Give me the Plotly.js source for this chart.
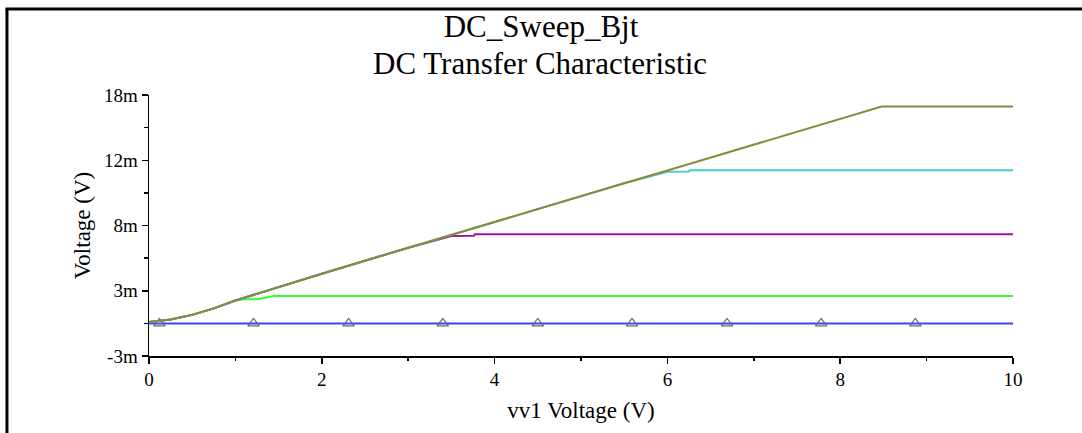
<!DOCTYPE html>
<html>
<head>
<meta charset="utf-8">
<script src="https://cdn.plot.ly/plotly-3.0.1.min.js"></script>
<style>html,body{margin:0;padding:0;background:#fff;}#chart{width:1082px;height:433px;}</style>
</head>
<body>
<div id="chart"></div>
<script>
// Sweep voltage (V) and node voltages (mV)
const oliveX = [0, 0.25, 0.5, 0.75, 1.0, 1.5, 2.0, 2.5, 3.0, 3.5, 4.0, 4.5, 5.0, 5.5, 6.0, 6.5, 7.0, 7.5, 8.0, 8.48, 10];
const oliveY = [0.1, 0.3, 0.65, 1.15, 1.75, 2.8, 3.8, 4.8, 5.8, 6.8, 7.78, 8.77, 9.76, 10.74, 11.72, 12.7, 13.69, 14.67, 15.66, 16.62, 16.62];

const cyanX = [0, 0.25, 0.5, 0.75, 1.0, 1.5, 2.0, 2.5, 3.0, 3.5, 4.0, 4.5, 5.0, 5.5, 6.0, 6.25, 6.26, 10];
const cyanY = [0.1, 0.3, 0.65, 1.15, 1.75, 2.8, 3.8, 4.8, 5.8, 6.8, 7.78, 8.77, 9.76, 10.74, 11.62, 11.64, 11.73, 11.73];

const purpleX = [0, 0.25, 0.5, 0.75, 1.0, 1.5, 2.0, 2.5, 3.0, 3.5, 3.76, 3.77, 10];
const purpleY = [0.1, 0.3, 0.65, 1.15, 1.75, 2.8, 3.8, 4.8, 5.8, 6.7, 6.72, 6.82, 6.82];

const greenX = [0, 0.25, 0.5, 0.75, 1.0, 1.1, 1.27, 1.44, 10];
const greenY = [0.1, 0.3, 0.65, 1.15, 1.75, 1.84, 1.86, 2.1, 2.1];

const blueX = [0, 10];
const blueY = [0, 0];

const markX = [0.12, 1.21, 2.31, 3.40, 4.50, 5.59, 6.69, 7.78, 8.87];
const markY = [0, 0, 0, 0, 0, 0, 0, 0, 0];

const xTickVals = [0, 2, 4, 6, 8, 10];
const xTickText = ['0', '2', '4', '6', '8', '10'];
const yTickVals = [-2.5, 2.5, 7.5, 12.5, 17.5];
const yTickText = ['-3m', '3m', '8m', '12m', '18m'];
const yMinorVals = [0, 5, 10, 15];

const serif = 'Liberation Serif, Times New Roman, serif';

function line(x, y, color) {
  return {x: x, y: y, type: 'scatter', mode: 'lines', line: {color: color, width: 2}, hoverinfo: 'skip'};
}

const traces = [
  line(blueX, blueY, '#4040ff'),
  {x: markX, y: markY, type: 'scatter', mode: 'markers',
   marker: {symbol: 'triangle-up-open', size: 10, color: '#6a6a6a', line: {width: 1.2, color: '#6a6a6a'}}},
  line(greenX, greenY, '#33ff33'),
  line(purpleX, purpleY, '#a010a0'),
  line(cyanX, cyanY, '#40d0d0'),
  line(oliveX, oliveY, '#8a8a3a')
];

const layout = {
  width: 1082, height: 433,
  margin: {l: 149, r: 69, t: 95, b: 77},
  paper_bgcolor: '#ffffff', plot_bgcolor: '#ffffff',
  showlegend: false,
  font: {family: serif, color: '#000', size: 18},
  title: {text: 'DC_Sweep_Bjt', font: {family: serif, size: 31, color: '#000'},
          x: 0.5, xref: 'container', y: 0.94, yref: 'container', yanchor: 'middle', xanchor: 'center'},
  annotations: [{
    text: 'DC Transfer Characteristic', xref: 'paper', yref: 'paper', x: 0.453, y: 1.12,
    xanchor: 'center', yanchor: 'middle', showarrow: false,
    font: {family: serif, size: 31, color: '#000'}
  }],
  xaxis: {
    range: [0, 10], showgrid: false, zeroline: false, showline: true, linecolor: '#000', linewidth: 1.5,
    tickmode: 'array', tickvals: xTickVals, ticktext: xTickText,
    ticks: 'outside', ticklen: 6, tickcolor: '#000', tickwidth: 1.5,
    tickfont: {family: serif, size: 19, color: '#000'},
    minor: {dtick: 1, ticks: 'outside', ticklen: 3, tickcolor: '#000', showgrid: false},
    title: {text: 'vv1 Voltage (V)', font: {family: serif, size: 23, color: '#000'}, standoff: 12},
    automargin: false, fixedrange: true
  },
  yaxis: {
    range: [-2.5, 17.5], showgrid: false, zeroline: false, showline: true, linecolor: '#000', linewidth: 1.5,
    tickmode: 'array', tickvals: yTickVals, ticktext: yTickText,
    ticks: 'outside', ticklen: 6, tickcolor: '#000', tickwidth: 1.5,
    tickfont: {family: serif, size: 19, color: '#000'},
    minor: {tickvals: yMinorVals, ticks: 'outside', ticklen: 4, tickcolor: '#000', showgrid: false},
    title: {text: 'Voltage (V)', font: {family: serif, size: 23, color: '#000'}, standoff: 7},
    automargin: false, fixedrange: true
  },
  shapes: [
    {type: 'line', xref: 'paper', yref: 'paper', x0: -0.1644, x1: -0.1644, y0: 1.33, y1: -0.4, line: {color: '#000', width: 3}},
    {type: 'line', xref: 'paper', yref: 'paper', x0: -0.166, x1: 1.09, y0: 1.3295, y1: 1.3295, line: {color: '#000', width: 3}}
  ]
};

Plotly.newPlot('chart', traces, layout, {displayModeBar: false, staticPlot: true});
</script>
</body>
</html>
